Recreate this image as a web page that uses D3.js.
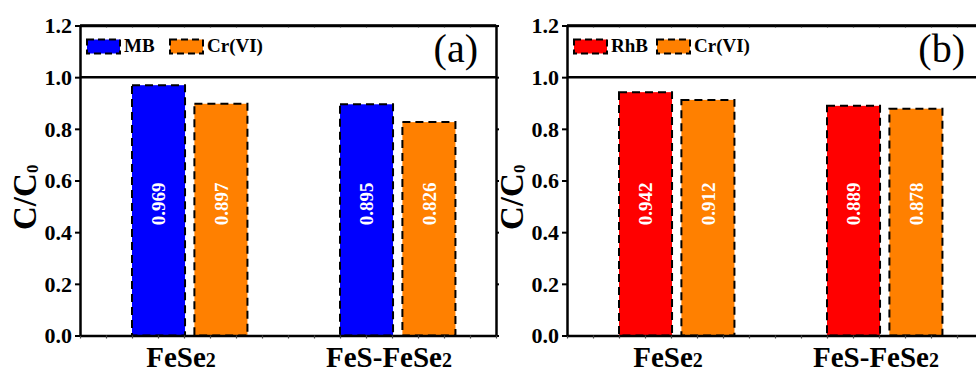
<!DOCTYPE html>
<html>
<head>
<meta charset="utf-8">
<script src="https://cdn.jsdelivr.net/npm/d3@7"></script>
<style>
  html, body { margin: 0; padding: 0; background: #fff; }
  svg { display: block; font-family: "Liberation Serif", "Times New Roman", serif; }
  .axis .domain { stroke: #000; stroke-width: 2.5; }
  .axis .tick line { stroke: #000; stroke-width: 2; }
  .minor .tick line { stroke: #444; stroke-width: 1.2; }
  .axis text { font-size: 22px; font-weight: bold; fill: #000; font-family: "Liberation Serif", "Times New Roman", serif; }
</style>
</head>
<body>
<div id="chart"></div>
<script>
/* Two grouped bar panels: C/C0 after adsorption */

const categories = ['FeSe2', 'FeS-FeSe2'];
const yTicks = [0, 0.2, 0.4, 0.6, 0.8, 1.0, 1.2];

// panel (a)
const seriesA = ['MB', 'Cr(VI)'];
const mbValues = [0.969, 0.895];
const crValuesA = [0.897, 0.826];

// panel (b)
const seriesB = ['RhB', 'Cr(VI)'];
const rhbValues = [0.942, 0.889];
const crValuesB = [0.912, 0.878];

const W = 976, H = 372;

const svg = d3.select('#chart').append('svg')
  .attr('width', W).attr('height', H);

drawPanel({
  left: 80, label: '(a)', series: seriesA,
  values: [mbValues, crValuesA], colors: ['#0000ff', '#ff8000']
});
drawPanel({
  left: 567, label: '(b)', series: seriesB,
  values: [rhbValues, crValuesB], colors: ['#ff0000', '#ff8000']
});

function drawPanel(p) {
  const top = 25.5, bottom = 335.5, width = 416;
  const inner = { width: width, height: bottom - top };

  const g = svg.append('g').attr('transform', `translate(${p.left},${top})`);

  const y = d3.scaleLinear().domain([0, 1.2]).range([inner.height, 0]);
  const x0 = d3.scaleBand().domain(categories).range([0, inner.width]);
  const x1 = d3.scaleBand().domain(p.series)
    .range([x0.bandwidth() * 0.25, x0.bandwidth() * 0.805]).paddingInner(0.15);
  const minor = d3.scaleLinear().domain([0, 16]).range([0, inner.width]);

  // bars
  const rows = [];
  categories.forEach((c, i) => {
    p.series.forEach((s, j) => rows.push({ cat: c, ser: s, v: p.values[j][i], color: p.colors[j] }));
  });

  g.selectAll('.bar').data(rows).enter().append('rect')
    .attr('class', 'bar')
    .attr('x', d => x0(d.cat) + x1(d.ser))
    .attr('y', d => y(d.v))
    .attr('width', x1.bandwidth())
    .attr('height', d => inner.height - y(d.v))
    .attr('fill', d => d.color)
    .attr('stroke', '#000')
    .attr('stroke-width', 2)
    .attr('stroke-dasharray', '8,5');

  // value labels, rotated
  g.selectAll('.val').data(rows).enter().append('text')
    .attr('transform', d => `translate(${x0(d.cat) + x1(d.ser) + x1.bandwidth() / 2},${y(0.51)}) rotate(-90)`)
    .attr('text-anchor', 'middle')
    .attr('dy', '0.35em')
    .style('font-size', '19px')
    .style('font-weight', 'bold')
    .style('fill', '#fff')
    .text(d => d.v.toFixed(3));

  // minor ticks on top border (faint, inside)
  g.append('g').attr('class', 'axis minor')
    .call(d3.axisBottom(minor).tickValues(d3.range(0, 17)).tickFormat('').tickSize(2).tickSizeOuter(0))
    .call(a => a.selectAll('.tick line').attr('stroke', '#bbb'));

  // border lines: top, 1.0 separator, right
  g.append('line').attr('x1', 0).attr('x2', inner.width).attr('y1', 0).attr('y2', 0)
    .attr('stroke', '#000').attr('stroke-width', 2.5);
  g.append('line').attr('x1', 0).attr('x2', inner.width).attr('y1', y(1.0)).attr('y2', y(1.0))
    .attr('stroke', '#000').attr('stroke-width', 2.5);

  g.append('g').attr('class', 'axis')
    .attr('transform', `translate(${inner.width},0)`)
    .call(d3.axisRight(y).tickValues(yTicks).tickFormat('').tickSize(3).tickSizeOuter(0));

  // bottom axis with minor ticks
  g.append('g').attr('class', 'axis minor')
    .attr('transform', `translate(0,${inner.height})`)
    .call(d3.axisBottom(minor).tickValues(d3.range(0, 17)).tickFormat('').tickSize(3).tickSizeOuter(0));

  // left axis
  g.append('g').attr('class', 'axis')
    .call(d3.axisLeft(y).tickValues(yTicks).tickFormat(d3.format('.1f')).tickSize(5).tickPadding(3).tickSizeOuter(0))
    .call(a => a.selectAll('text').attr('dy', '0.34em'));

  // category labels with subscript digit
  categories.forEach(c => {
    const m = c.match(/^(.*?)(\d+)$/);
    const t = g.append('text')
      .attr('x', x0(c) + x0.bandwidth() / 2 - 3)
      .attr('y', inner.height + 31)
      .attr('text-anchor', 'middle')
      .style('font-size', '29px')
      .style('font-weight', 'bold');
    t.append('tspan').text(m ? m[1] : c);
    if (m) t.append('tspan').style('font-size', '20px').text(m[2]);
  });

  // y title C/C0
  const yt = g.append('text')
    .attr('transform', `translate(${-44},${y(0.535)}) rotate(-90)`)
    .attr('text-anchor', 'middle')
    .style('font-size', '33px')
    .style('font-weight', 'bold');
  yt.append('tspan').text('C/C');
  yt.append('tspan').attr('dy', 2).style('font-size', '17px').text('0');

  // panel tag
  g.append('text')
    .attr('x', 398).attr('y', 36.5)
    .attr('text-anchor', 'end')
    .style('font-size', '40px')
    .text(p.label);

  // legend in the band above 1.0
  const leg = g.append('g').attr('transform', `translate(7,${14})`);
  const pitch = [0, 83];
  p.series.forEach((s, j) => {
    const lg = leg.append('g').attr('transform', `translate(${pitch[j]},0)`);
    lg.append('rect').attr('x', 0).attr('y', 0).attr('width', 33).attr('height', 14)
      .attr('fill', p.colors[j]).attr('stroke', '#000').attr('stroke-width', 2)
      .attr('stroke-dasharray', '7,4');
    lg.append('text').attr('x', 37).attr('y', 12)
      .style('font-size', '19px').style('font-weight', 'bold').text(s);
  });
}
</script>
</body>
</html>
